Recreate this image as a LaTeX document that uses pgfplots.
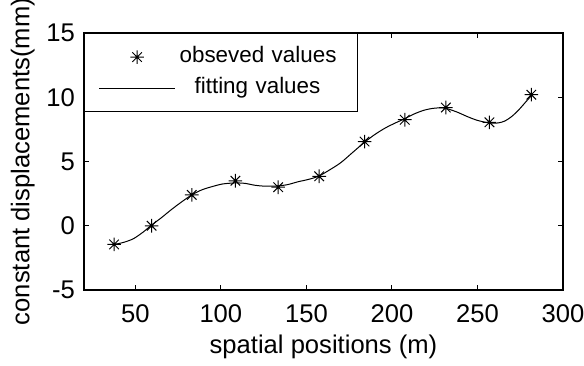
\documentclass[border=0pt]{standalone}
\usepackage{pgfplots}
\pgfplotsset{compat=1.18}
\usepackage{fontspec}
\setmainfont{Liberation Sans}

% eight-spoked asterisk: a plus and a cross drawn together
\pgfdeclareplotmark{spoke8}{%
  \pgfpathmoveto{\pgfqpoint{-\pgfplotmarksize}{0pt}}%
  \pgfpathlineto{\pgfqpoint{\pgfplotmarksize}{0pt}}%
  \pgfpathmoveto{\pgfqpoint{0pt}{-\pgfplotmarksize}}%
  \pgfpathlineto{\pgfqpoint{0pt}{\pgfplotmarksize}}%
  \pgfpathmoveto{\pgfqpoint{-0.7\pgfplotmarksize}{-0.7\pgfplotmarksize}}%
  \pgfpathlineto{\pgfqpoint{0.7\pgfplotmarksize}{0.7\pgfplotmarksize}}%
  \pgfpathmoveto{\pgfqpoint{-0.7\pgfplotmarksize}{0.7\pgfplotmarksize}}%
  \pgfpathlineto{\pgfqpoint{0.7\pgfplotmarksize}{-0.7\pgfplotmarksize}}%
  \pgfusepathqstroke}

\begin{document}
\begin{tikzpicture}
\begin{axis}[
  scale only axis,
  width=239.5pt, height=128.5pt,
  xmin=20, xmax=300, ymin=-5, ymax=15,
  xtick={50,100,...,300}, ytick={-5,0,...,15},
  tick align=inside, major tick length=2.5pt,
  axis line style={line width=0.6pt},
  every tick/.style={black, line width=0.5pt},
  /pgf/number format/assume math mode=true,
  ticklabel style={font=\fontsize{12.8}{14}\selectfont},
  xticklabel style={yshift=-4pt},
  yticklabel style={xshift=-1pt},
  label style={font=\fontsize{12.8}{14}\selectfont},
  xlabel={spatial positions (m)},
  ylabel={constant displacements(mm)},
  xlabel style={yshift=1pt},
  ylabel style={yshift=-1pt},
  legend style={at={(0,1)}, anchor=north west, draw=black, line width=0.6pt,
    font=\fontsize{11.2}{13}\selectfont, inner xsep=7pt, inner ysep=4.5pt,
    row sep=1pt,
    nodes={text width=80pt, anchor=west, text height=8pt, text depth=2.5pt,
      inner ysep=2pt}},
  legend cell align=left,
  legend image code/.code={\draw[mark repeat=2, mark phase=2, #1]
    plot coordinates {(0pt,0pt) (19pt,0pt) (38pt,0pt)};},
]
% measured displacements
\addplot[only marks, mark=spoke8, mark size=3.4pt, black, line width=0.5pt]
  coordinates {
  (37.6,-1.45) (59.5,0.0) (83,2.4) (108.5,3.5) (133.5,3.0) (157.5,3.85)
  (184,6.55) (207.5,8.25) (231.5,9.2) (257,8.05) (281.5,10.2)
  };
\addlegendentry{\mbox{obseved values}}
% fitted curve
\addplot[black, line width=0.5pt, smooth, no marks]
  coordinates {
  (37.6,-1.45) (43,-1.3) (49,-1.0) (55,-0.45) (59,0.0) (65,0.6) (71,1.25)
  (77,1.85) (83,2.4) (89,2.8) (95,3.05) (101,3.25) (108,3.33) (114,3.3)
  (120,3.15) (126,3.08) (133,3.1) (139,3.2) (145,3.42) (151,3.6) (157,3.85)
  (163,4.3) (170,4.9) (177,5.7) (184,6.5) (190,7.1) (196,7.6) (202,8.0)
  (207,8.3) (213,8.7) (219,9.0) (225,9.15) (231,9.15) (238,8.85) (244,8.5)
  (250,8.2) (257,8.0) (262,8.0) (266,8.15) (270,8.5) (274,9.0) (278,9.6)
  (282,10.2)
  };
\addlegendentry[xshift=7.5pt, text width=72.5pt]{\mbox{fitting values}}
\end{axis}
\pgfresetboundingbox
\path[use as bounding box] (-42pt,-37.5pt) rectangle (250pt,145pt);
\end{tikzpicture}
\end{document}
